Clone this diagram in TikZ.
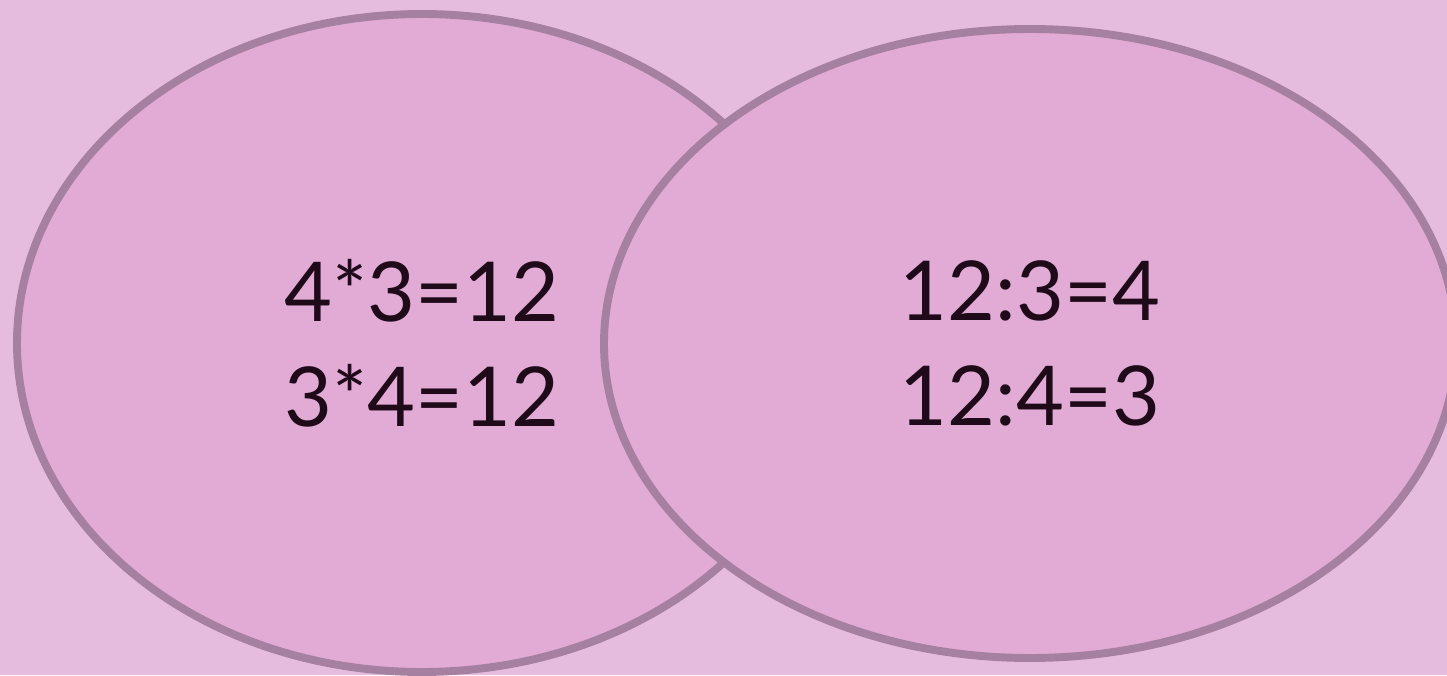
\documentclass[tikz,border=0pt]{standalone}
\usepackage{fontspec}
\setmainfont{Lato}
\usepackage{xcolor}
\usetikzlibrary{shapes.geometric}
\definecolor{pagebg}{RGB}{230,188,222}
\definecolor{vennfill}{RGB}{225,171,214}
\definecolor{vennline}{RGB}{166,128,160}
\definecolor{venntext}{RGB}{30,10,25}
\tikzset{
  venn/.style={ellipse, draw=vennline, fill=vennfill, line width=4.5pt,
    inner sep=0pt, align=center, text=venntext,
    font=\fontsize{47}{60}\selectfont}
}
\begin{document}
\begin{tikzpicture}
  % background
  \fill[pagebg] (0,0) rectangle (28.94,13.5);
  \useasboundingbox (0,0) rectangle (28.94,13.5);
  % Left: multiplication
  \node[venn, minimum width=16.2cm, minimum height=13.16cm] (mult) at (8.44,6.64) {4*3=12\\3*4=12};
  % Right: division, on top
  \node[venn, minimum width=17.04cm, minimum height=12.58cm] (divi) at (20.6,6.63) {12:3=4\\12:4=3};
\end{tikzpicture}
\end{document}
